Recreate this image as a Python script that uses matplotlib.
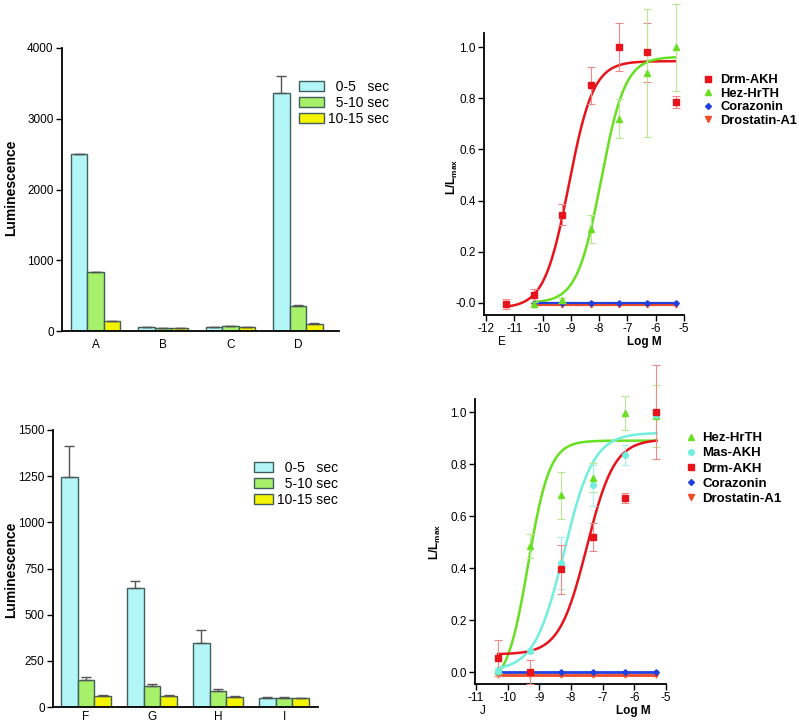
import numpy as np
import matplotlib
matplotlib.use("Agg")
import matplotlib.pyplot as plt
from matplotlib.lines import Line2D
from matplotlib.patches import Patch

plt.rcParams["font.family"] = ["Liberation Sans", "DejaVu Sans"]
plt.rcParams["mathtext.fontset"] = "custom"
plt.rcParams["mathtext.rm"] = "Liberation Sans"
plt.rcParams["mathtext.bf"] = "Liberation Sans:bold"

# ---- bar panels (A-D, F-I) ----
BAR_LABELS = ["  0-5   sec", "  5-10 sec", "10-15 sec"]
TOP_CATS = ["A", "B", "C", "D"]
TOP_0_5 = [2500, 57, 57, 3370]
TOP_0_5_ERR = [0, 0, 0, 235]
TOP_5_10 = [830, 47, 71, 349]
TOP_5_10_ERR = [0, 0, 0, 20]
TOP_10_15 = [141, 38, 61, 104]
TOP_10_15_ERR = [0, 0, 0, 9]

BOT_CATS = ["F", "G", "H", "I"]
BOT_0_5 = [1245, 643, 345, 50]
BOT_0_5_ERR = [170, 42, 70, 3]
BOT_5_10 = [148, 113, 85, 50]
BOT_5_10_ERR = [12, 9, 10, 2]
BOT_10_15 = [62, 62, 53, 47]
BOT_10_15_ERR = [1, 1, 4, 1]

# ---- dose-response panel E ----
E_DOSE = [-11.3, -10.3, -9.3, -8.3, -7.3, -6.3, -5.3]
E_DRM = [-0.003, 0.03, 0.345, 0.85, 1.00, 0.98, 0.785]
E_DRM_ERR = [0.02, 0.025, 0.04, 0.072, 0.095, 0.115, 0.025]
E_DOSE6 = [-10.3, -9.3, -8.3, -7.3, -6.3, -5.3]
E_HEZ = [-0.005, 0.01, 0.29, 0.72, 0.90, 1.00]
E_HEZ_ERR = [0.01, 0.01, 0.055, 0.077, 0.25, 0.17]
E_CRZ = [0.0, 0.0, 0.0, 0.0, 0.0, 0.0]
E_DST = [-0.008, -0.008, -0.008, -0.008, -0.008, -0.008]
# fitted curves: bottom, top, logEC50, hill, x-start, x-end
E_FIT_DRM = [-0.02, 0.945, -9.07, 1.0, -11.3, -5.3]
E_FIT_HEZ = [0.0, 0.962, -7.93, 1.02, -10.3, -5.3]

# ---- dose-response panel J ----
J_DOSE = [-10.3, -9.3, -8.3, -7.3, -6.3, -5.3]
J_HEZ = [0.005, 0.485, 0.68, 0.747, 0.997, 0.985]
J_HEZ_ERR = [0.01, 0.045, 0.09, 0.055, 0.065, 0.12]
J_MAS = [0.005, 0.08, 0.42, 0.718, 0.835, 0.99]
J_MAS_ERR = [0.01, 0.005, 0.1, 0.08, 0.04, 0.01]
J_DRM = [0.053, 0.0, 0.395, 0.52, 0.67, 1.00]
J_DRM_ERR = [0.07, 0.045, 0.095, 0.055, 0.02, 0.18]
J_CRZ = [0.0, 0.0, 0.0, 0.0, 0.0, 0.0]
J_DST = [-0.012, -0.012, -0.012, -0.012, -0.012, -0.012]
J_FIT_HEZ = [-0.06, 0.89, -9.35, 1.28, -10.3, -5.3]
J_FIT_MAS = [0.005, 0.92, -8.22, 0.93, -10.3, -5.3]
J_FIT_DRM = [0.068, 0.895, -7.5, 1.0, -10.3, -5.3]

CYAN = "#b2f6f8"
GREEN = "#a6f06a"
YELLOW = "#f4f400"
BAR_EDGE = "#3f5f5f"

RED = "#e8141c"
LGREEN = "#66e020"
TEAL = "#70eede"
BLUE = "#2040e0"
ORANGE = "#f04a24"

W, H = 799, 725


def fx(px):
    return px / W


def fy(py):
    return 1 - py / H


def four_pl(params):
    bottom, top, ec50, hill, x0, x1 = params
    x = np.linspace(x0, x1, 300)
    return x, bottom + (top - bottom) / (1 + 10 ** ((ec50 - x) * hill))


def bar_panel(ax, cats, series, errs, ymax, yticks, xmax, width, leg_anchor,
              handlelength, xpad):
    colors = [CYAN, GREEN, YELLOW]
    x = np.arange(len(cats))
    offsets = [-width, 0, width]
    for vals, err, c, off, lab in zip(series, errs, colors, offsets, BAR_LABELS):
        ax.bar(x + off, vals, width, color=c, edgecolor=BAR_EDGE, linewidth=1.0,
               yerr=(np.zeros(len(vals)), err), label=lab,
               error_kw=dict(ecolor="#555555", capsize=3.5, elinewidth=1.0, capthick=1.0))
    ax.set_xlim(-0.5, xmax)
    ax.set_ylim(0, ymax)
    ax.set_yticks(yticks)
    ax.set_xticks(x)
    ax.set_xticklabels(cats)
    ax.tick_params(axis="x", length=0, labelsize=8.5, pad=xpad)
    ax.tick_params(axis="y", length=4, width=1.0, labelsize=8.5, pad=2)
    for s in ["top", "right"]:
        ax.spines[s].set_visible(False)
    for s in ["left", "bottom"]:
        ax.spines[s].set_linewidth(1.3)
    handles = [Patch(facecolor=c, edgecolor=BAR_EDGE, linewidth=1.0) for c in colors]
    ax.legend(handles, BAR_LABELS, loc="upper left", bbox_to_anchor=leg_anchor,
              frameon=False, fontsize=10, borderpad=0, borderaxespad=0,
              handlelength=handlelength, handleheight=0.7, handletextpad=0.3,
              labelspacing=0.14)


def dose_panel(ax, xmin, ylim, xticks, zero_label):
    ax.set_xlim(xmin, -5)
    ax.set_ylim(*ylim)
    ax.set_xticks(xticks)
    ax.set_xticklabels([str(t) for t in xticks])
    ax.set_yticks([0.0, 0.2, 0.4, 0.6, 0.8, 1.0])
    ax.set_yticklabels([zero_label, "0.2", "0.4", "0.6", "0.8", "1.0"])
    ax.tick_params(length=4, width=1.0, labelsize=8.5, pad=2)
    for s in ["top", "right"]:
        ax.spines[s].set_visible(False)
    for s in ["left", "bottom"]:
        ax.spines[s].set_linewidth(1.3)


fig = plt.figure(figsize=(W / 100, H / 100), dpi=100)

# panel A-D
axA = fig.add_axes([fx(62), fy(331), (339 - 62) / W, (331 - 48) / H])
bar_panel(axA, TOP_CATS, [TOP_0_5, TOP_5_10, TOP_10_15],
          [TOP_0_5_ERR, TOP_5_10_ERR, TOP_10_15_ERR],
          4000, [0, 1000, 2000, 3000, 4000], 3.61, 0.245, (0.856, 0.887), 1.8, 6)

# panel F-I
axF = fig.add_axes([fx(53), fy(707), (318 - 53) / W, (707 - 430) / H])
bar_panel(axF, BOT_CATS, [BOT_0_5, BOT_5_10, BOT_10_15],
          [BOT_0_5_ERR, BOT_5_10_ERR, BOT_10_15_ERR],
          1500, [0, 250, 500, 750, 1000, 1250, 1500], 3.515, 0.255, (0.758, 0.888),
          1.35, 3)

fig.text(fx(11), fy(188), "Luminescence", rotation=90, ha="center", va="center",
         fontsize=10, fontweight="bold")
fig.text(fx(11), fy(570), "Luminescence", rotation=90, ha="center", va="center",
         fontsize=10, fontweight="bold")

eb = dict(capsize=3, elinewidth=0.8, capthick=0.8, linestyle="none", clip_on=False)

# panel E
axE = fig.add_axes([fx(484), fy(315), (684 - 484) / W, (315 - 33) / H])
dose_panel(axE, -12.07, (-0.047, 1.055), [-12, -11, -10, -9, -8, -7, -6, -5], "-0.0")
x, y = four_pl(E_FIT_DRM)
axE.plot(x, y, color=RED, lw=1.8, zorder=3)
x, y = four_pl(E_FIT_HEZ)
axE.plot(x, y, color=LGREEN, lw=1.8, zorder=3)
axE.plot(E_DOSE6, E_DST, color=ORANGE, lw=1.6, marker="v", ms=3.5, zorder=3)
axE.plot(E_DOSE6, E_CRZ, color=BLUE, lw=1.6, marker="D", ms=2.8, zorder=4)
axE.errorbar(E_DOSE, E_DRM, yerr=E_DRM_ERR, fmt="s", color=RED, ms=5,
             ecolor="#f08a8a", zorder=5, **eb)
axE.errorbar(E_DOSE6, E_HEZ, yerr=E_HEZ_ERR, fmt="^", color=LGREEN, ms=4,
             ecolor="#b8e890", zorder=5, **eb)
fig.text(fx(452), fy(177), r"$\mathbf{L/L_{max}}$", rotation=90, ha="center",
         va="center", fontsize=8.5)
fig.text(fx(502), fy(342), "E", ha="center", va="center", fontsize=8.5)
fig.text(fx(644), fy(342), "Log M", ha="center", va="center", fontsize=8.5,
         fontweight="bold")
e_handles = [
    Line2D([], [], ls="none", marker="s", color=RED, ms=4),
    Line2D([], [], ls="none", marker="^", color=LGREEN, ms=4),
    Line2D([], [], ls="none", marker="D", color=BLUE, ms=3),
    Line2D([], [], ls="none", marker="v", color=ORANGE, ms=4),
]
fig.legend(e_handles, ["Drm-AKH", "Hez-HrTH", "Corazonin", "Drostatin-A1"],
           loc="upper left", bbox_to_anchor=(fx(702), fy(74)), frameon=False,
           prop=dict(size=9.3, weight="bold"), borderpad=0, borderaxespad=0,
           handlelength=1.0, handletextpad=0.4, labelspacing=0.12)

# panel J
axJ = fig.add_axes([fx(475), fy(684), (666 - 475) / W, (684 - 399) / H])
dose_panel(axJ, -11.03, (-0.046, 1.05), [-11, -10, -9, -8, -7, -6, -5], "0.0")
x, y = four_pl(J_FIT_HEZ)
axJ.plot(x, y, color=LGREEN, lw=1.8, zorder=3)
x, y = four_pl(J_FIT_MAS)
axJ.plot(x, y, color=TEAL, lw=1.8, zorder=3)
x, y = four_pl(J_FIT_DRM)
axJ.plot(x, y, color=RED, lw=1.8, zorder=3)
axJ.plot(J_DOSE, J_DST, color=ORANGE, lw=2.0, marker="v", ms=3.5, zorder=3)
axJ.plot(J_DOSE, J_CRZ, color=BLUE, lw=2.0, marker="D", ms=2.8, zorder=4)
axJ.errorbar(J_DOSE, J_HEZ, yerr=J_HEZ_ERR, fmt="^", color=LGREEN, ms=4,
             ecolor="#b8e890", zorder=5, **eb)
axJ.errorbar(J_DOSE, J_MAS, yerr=J_MAS_ERR, fmt="o", color=TEAL, ms=4,
             ecolor="#a8f0ea", zorder=5, **eb)
axJ.errorbar(J_DOSE, J_DRM, yerr=J_DRM_ERR, fmt="s", color=RED, ms=5,
             ecolor="#f08a8a", zorder=5, **eb)
fig.text(fx(435), fy(542), r"$\mathbf{L/L_{max}}$", rotation=90, ha="center",
         va="center", fontsize=8.5)
fig.text(fx(483), fy(711), "J", ha="center", va="center", fontsize=8.5)
fig.text(fx(633), fy(711), "Log M", ha="center", va="center", fontsize=8.5,
         fontweight="bold")
j_handles = [
    Line2D([], [], ls="none", marker="^", color=LGREEN, ms=4),
    Line2D([], [], ls="none", marker="o", color=TEAL, ms=4),
    Line2D([], [], ls="none", marker="s", color=RED, ms=4),
    Line2D([], [], ls="none", marker="D", color=BLUE, ms=3),
    Line2D([], [], ls="none", marker="v", color=ORANGE, ms=4),
]
fig.legend(j_handles, ["Hez-HrTH", "Mas-AKH", "Drm-AKH", "Corazonin", "Drostatin-A1"],
           loc="upper left", bbox_to_anchor=(fx(684), fy(432)), frameon=False,
           prop=dict(size=9.5, weight="bold"), borderpad=0, borderaxespad=0,
           handlelength=1.0, handletextpad=0.4, labelspacing=0.22)

fig.savefig("out.png", dpi=100)
